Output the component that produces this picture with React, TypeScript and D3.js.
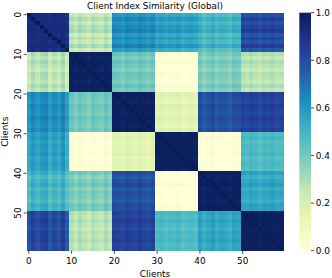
import React from 'react';
import * as d3 from 'd3';

// 60 clients in 6 groups of 10
const clients = d3.range(60);
const tickValues = [0, 10, 20, 30, 40, 50];
const cbarTicks = [0, 0.2, 0.4, 0.6, 0.8, 1.0];

// mean similarity between groups
const groupMean = [
  [0.93, 0.26, 0.62, 0.56, 0.49, 0.80],
  [0.26, 0.985, 0.40, 0.00, 0.38, 0.27],
  [0.62, 0.40, 0.985, 0.16, 0.79, 0.83],
  [0.56, 0.00, 0.16, 0.985, 0.00, 0.47],
  [0.49, 0.38, 0.79, 0.00, 0.985, 0.55],
  [0.80, 0.27, 0.83, 0.47, 0.55, 0.985],
];

// per-client deviation (the stripes inside each block)
const clientShift = [
  -0.02, 0.04, -0.01, 0.03, 0.05, -0.03, 0.02, -0.02, 0.05, -0.04,
  0.02, -0.02, 0.03, 0.0, -0.03, 0.02, 0.0, -0.02, 0.03, -0.01,
  0.01, 0.0, -0.02, 0.02, 0.0, -0.01, 0.02, 0.0, -0.02, 0.01,
  0.0, 0.02, -0.01, 0.01, 0.0, 0.02, -0.02, 0.0, 0.01, -0.01,
  0.02, -0.03, 0.0, 0.03, -0.02, 0.01, 0.0, -0.03, 0.02, 0.01,
  0.01, -0.01, 0.02, 0.0, -0.02, 0.01, 0.0, 0.02, -0.01, 0.0,
];

const ylgnbu = ['#ffffd9', '#edf8b1', '#c7e9b4', '#7fcdbb', '#41b6c4', '#1d91c0', '#225ea8', '#253494', '#081d58'];

const W = 332, H = 278;
const margin = { left: 26.7, top: 12.7, right: 48.7, bottom: 27.3 };
const font = 'DejaVu Sans, sans-serif';
const fs = 8.9;

export default function App() {
  const x = d3.scaleBand<number>().domain(clients).range([margin.left, W - margin.right]);
  const y = d3.scaleBand<number>().domain(clients).range([margin.top, H - margin.bottom]);
  const color = d3.scaleLinear<string>()
    .domain(d3.range(ylgnbu.length).map(i => i / (ylgnbu.length - 1)))
    .range(ylgnbu)
    .interpolate(d3.interpolateRgb)
    .clamp(true);

  const cells = [];
  clients.forEach(i => {
    clients.forEach(j => {
      const gi = Math.floor(i / 10), gj = Math.floor(j / 10);
      let v;
      if (i === j) v = 1;
      else if (gi === gj) v = groupMean[gi][gj] + 0.6 * Math.min(0, clientShift[i] + clientShift[j]);
      else v = groupMean[gi][gj] + clientShift[i] + clientShift[j];
      cells.push({ i, j, v: Math.max(0, Math.min(1, v)) });
    });
  });

  const cbX = 299.3, cbW = 11.7;
  const cy = d3.scaleLinear().domain([0, 1]).range([H - margin.bottom, margin.top]);
  const stops = d3.range(0, 1.0001, 0.05);

  return (
    <svg width={W} height={H} style={{ position: 'absolute', left: 0, top: 0 }} fontFamily={font}>
      <defs>
        <linearGradient id="cb" x1="0" y1="1" x2="0" y2="0">
          {stops.map(s => <stop key={s} offset={s} stopColor={color(s)} />)}
        </linearGradient>
      </defs>
      <g shapeRendering="crispEdges">
        {cells.map(c => (
          <rect key={c.i + '-' + c.j} x={x(c.j)} y={y(c.i)} width={x.bandwidth() + 0.3} height={y.bandwidth() + 0.3} fill={color(c.v)} />
        ))}
      </g>
      <text x={(margin.left + W - margin.right) / 2} y={8.5} textAnchor="middle" fontSize={fs}>Client Index Similarity (Global)</text>
      {/* x axis */}
      {tickValues.map(t => {
        const px = x(t)! + x.bandwidth() / 2;
        return (
          <g key={'x' + t}>
            <line x1={px} x2={px} y1={H - margin.bottom} y2={H - margin.bottom + 3.1} stroke="#000" strokeWidth={0.7} />
            <text x={px} y={H - margin.bottom + 13.2} textAnchor="middle" fontSize={fs}>{t}</text>
          </g>
        );
      })}
      <text x={(margin.left + W - margin.right) / 2} y={H - 1.5} textAnchor="middle" fontSize={fs}>Clients</text>
      {/* y axis */}
      {tickValues.map(t => {
        const py = y(t)! + y.bandwidth() / 2;
        return (
          <g key={'y' + t}>
            <line x1={margin.left - 3.1} x2={margin.left} y1={py} y2={py} stroke="#000" strokeWidth={0.7} />
            <text transform={`translate(${margin.left - 6},${py}) rotate(-90)`} textAnchor="middle" fontSize={fs}>{t}</text>
          </g>
        );
      })}
      <text transform={`translate(8,${(margin.top + H - margin.bottom) / 2}) rotate(-90)`} textAnchor="middle" fontSize={fs}>Clients</text>
      {/* colorbar */}
      <rect x={cbX} y={margin.top} width={cbW} height={H - margin.bottom - margin.top} fill="url(#cb)" />
      {cbarTicks.map(t => (
        <g key={'c' + t}>
          <line x1={cbX + cbW} x2={cbX + cbW + 3.1} y1={cy(t)} y2={cy(t)} stroke="#000" strokeWidth={0.7} />
          <text x={cbX + cbW + 4.8} y={cy(t) + 3.2} fontSize={fs}>{t.toFixed(1)}</text>
        </g>
      ))}
    </svg>
  );
}
